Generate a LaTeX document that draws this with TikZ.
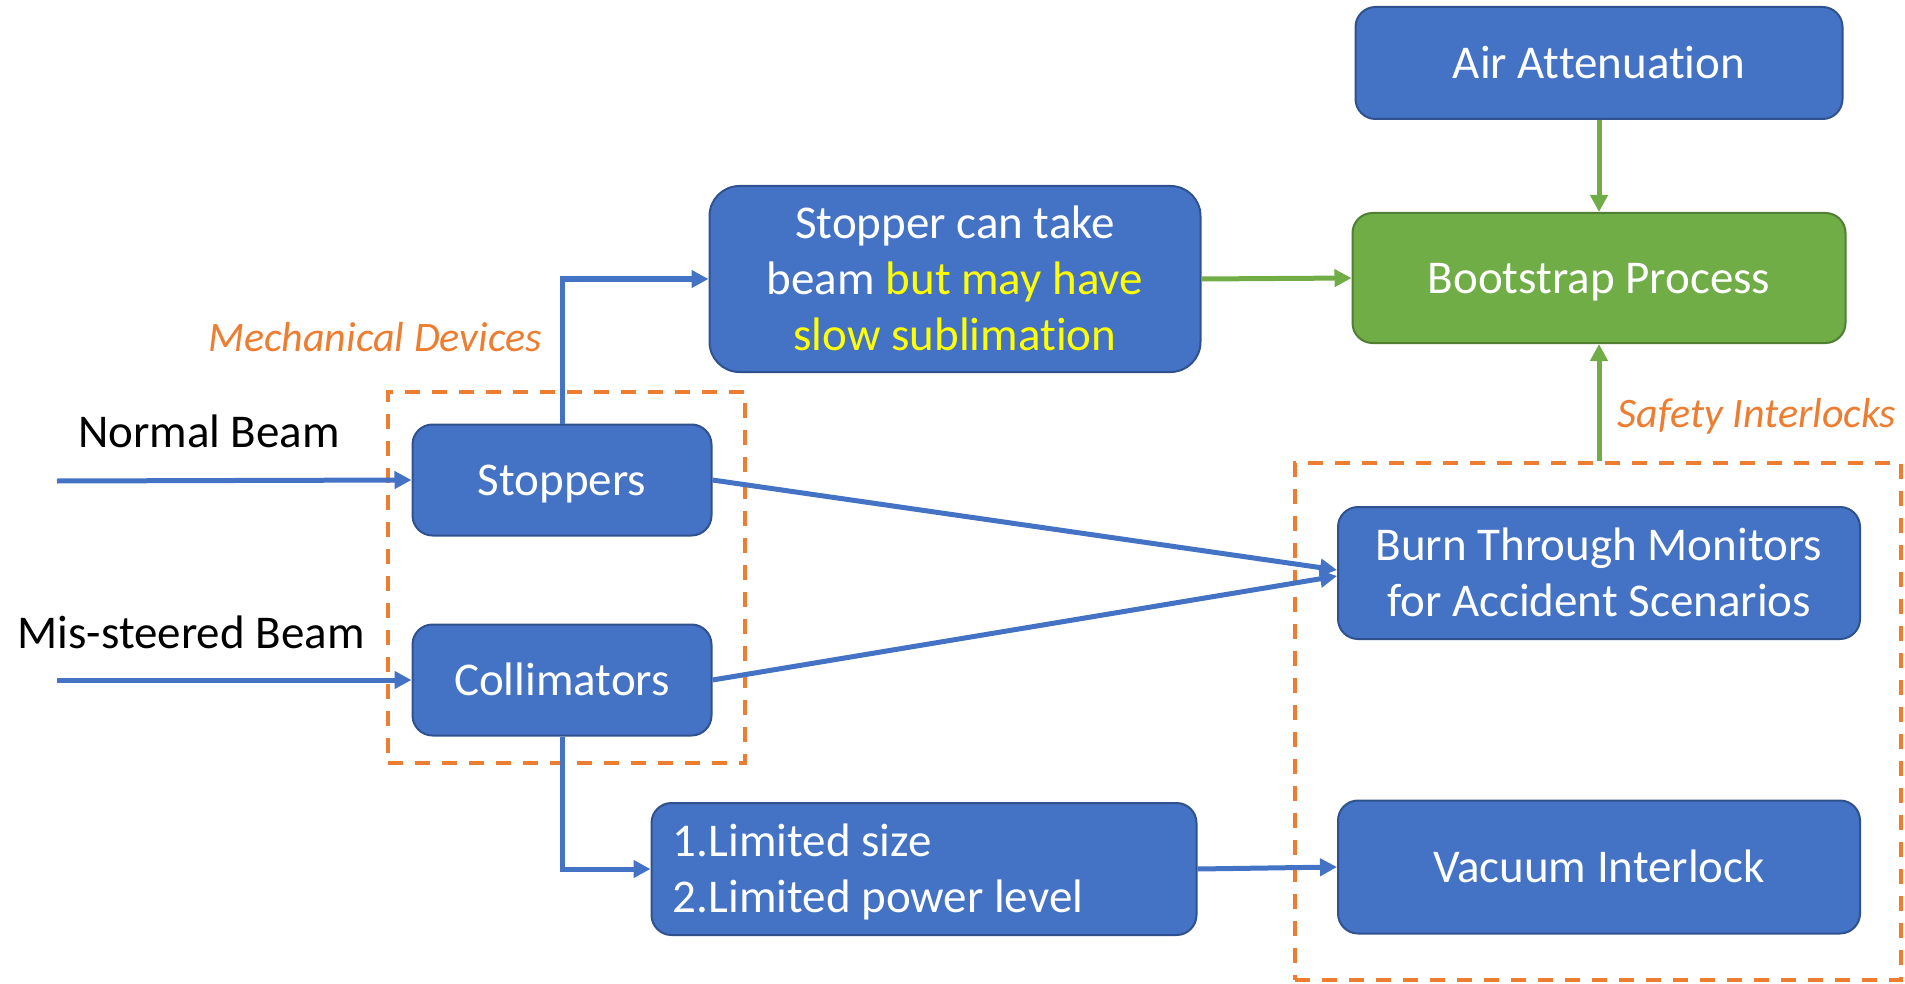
\documentclass[tikz,border=0pt]{standalone}
\usepackage{fontspec}
\setmainfont{Carlito}[Ligatures=NoCommon]
\usetikzlibrary{arrows.meta}
\definecolor{boxblue}{HTML}{4472C4}
\definecolor{blueborder}{HTML}{2F528F}
\definecolor{boxgreen}{HTML}{70AD47}
\definecolor{greenborder}{HTML}{507E32}
\definecolor{accent}{HTML}{ED7D31}
\definecolor{hiyellow}{HTML}{FFFF00}
\definecolor{arrowblue}{HTML}{4472C4}
\newcommand\tstr{\rule{0pt}{0.905em}}
\newcommand\bstr{\rule[-0.25em]{0pt}{0pt}}
\begin{document}
\begin{tikzpicture}[x=0.5pt,y=-0.5pt,
  every node/.style={font=\fontsize{23.5pt}{28pt}\selectfont},
  bluebox/.style={draw=blueborder, fill=boxblue, line width=1pt, rounded corners=10pt, text=white, align=center, inner sep=0pt},
  greenbox/.style={draw=greenborder, fill=boxgreen, line width=1pt, rounded corners=10pt, text=white, align=center, inner sep=0pt},
  dashbox/.style={draw=accent, line width=2pt, dash pattern=on 7.5pt off 6pt, inner sep=0pt},
  barrow/.style={draw=arrowblue, line width=2.5pt, -{Triangle[length=8.5pt,width=8.5pt]}},
  garrow/.style={draw=boxgreen, line width=2.5pt, -{Triangle[length=8.5pt,width=8.5pt]}},
  lbl/.style={text=black},
  grouplbl/.style={text=accent, font=\fontsize{21pt}{25pt}\selectfont\itshape}
]
\useasboundingbox (0,0) rectangle (1905,984);

% group frames
\node[dashbox, minimum width=178.5pt, minimum height=185.5pt] (mech) at (566.5,577.5) {};
\node[dashbox, minimum width=303pt, minimum height=258.5pt] (safety) at (1598,721.5) {};

% boxes
\node[bluebox, minimum width=243.5pt, minimum height=56pt] (air) at (1599,63) {\tstr Air Attenuation\bstr};
\node[greenbox, minimum width=246.5pt, minimum height=65pt] (boot) at (1599,278) {\tstr Bootstrap Process\bstr};
\node[bluebox, rounded corners=15pt, minimum width=245.5pt, minimum height=93pt] (stopcan) at (955,279) {\tstr Stopper can take\\beam \textcolor{hiyellow}{but may have}\\\textcolor{hiyellow}{slow sublimation}\bstr};
\node[bluebox, minimum width=149.5pt, minimum height=55.5pt] (stoppers) at (562,480) {\tstr Stoppers\bstr};
\node[bluebox, minimum width=149.5pt, minimum height=55.5pt] (coll) at (562,680) {\tstr Collimators\bstr};
\node[bluebox, minimum width=261pt, minimum height=66pt] (burn) at (1599,573) {\tstr Burn Through Monitors\\for Accident Scenarios\bstr};
\node[bluebox, minimum width=261pt, minimum height=66.5pt] (vac) at (1599,867) {\tstr Vacuum Interlock\bstr};
\node[bluebox, minimum width=272.5pt, minimum height=66pt] (lim) at (924,869) {};
\node[text=white, align=left, anchor=west, inner sep=0pt] (limtext) at ([xshift=11pt]lim.west) {\tstr 1.Limited size\\2.Limited power level\bstr};

% labels
\node[lbl] (nbl) at (209,431) {Normal Beam};
\node[lbl] (mbl) at (191,632) {Mis-steered Beam};
\node[grouplbl] (mechl) at (375,337) {Mechanical Devices};
\node[grouplbl] (safel) at (1757,416) {Safety Interlocks};

% beam inputs
\coordinate (nb) at (57,481);
\coordinate (mb) at (57,680);
\draw[barrow] (nb) -- (stoppers.west);
\draw[barrow] (mb) -- (coll.west);

% connectors
\draw[barrow] (stoppers.north) |- (stopcan.west);
\draw[barrow] (stoppers.east) -- ([yshift=1.5pt]burn.west);
\draw[barrow] (coll.east) -- ([yshift=-1.5pt]burn.west);
\draw[barrow] (coll.south) |- (lim.west);
\draw[barrow] (lim.east) -- (vac.west);
\draw[garrow] (stopcan.east) -- (boot.west);
\draw[garrow] (air.south) -- (boot.north);
\draw[garrow] (boot.south |- safety.north) -- (boot.south);
\end{tikzpicture}
\end{document}
